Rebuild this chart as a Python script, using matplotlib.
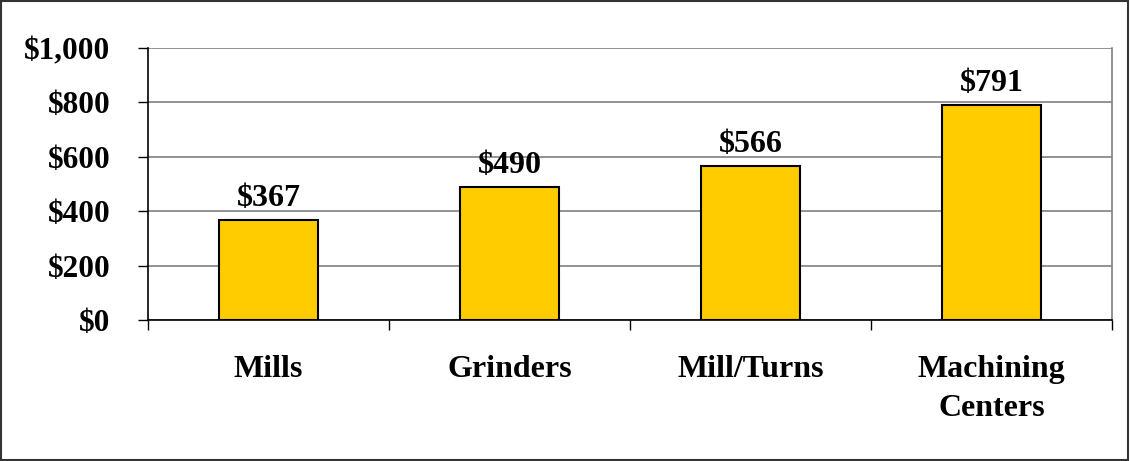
import matplotlib.pyplot as plt
from matplotlib.patches import Rectangle
from matplotlib.ticker import FuncFormatter, FixedLocator

# Dados
categories = ["Mills", "Grinders", "Mill/Turns", "Machining\nCenters"]
values = [367, 490, 566, 791]
y_ticks = [0, 200, 400, 600, 800, 1000]

plt.rcParams['font.family'] = ['Liberation Serif', 'DejaVu Serif']
plt.rcParams['font.weight'] = 'bold'

fig = plt.figure(figsize=(11.3, 4.61), dpi=100)
ax = fig.add_axes([148 / 1130, 1 - 320 / 461, (1112 - 148) / 1130, (320 - 48) / 461])

x = range(len(categories))
bars = ax.bar(x, values, width=0.41, color='#FFCC00', edgecolor='black', linewidth=1.5, zorder=3)

for xi, v in zip(x, values):
    ax.annotate(f'${v}', (xi, v), xytext=(0, 10), textcoords='offset points',
                ha='center', va='baseline', fontsize=23, fontweight='bold')

ax.set_xlim(-0.5, len(categories) - 0.5)
ax.set_ylim(0, 1000)
ax.set_yticks(y_ticks)
ax.yaxis.set_major_formatter(FuncFormatter(lambda v, p: f'${int(v):,}'))
ax.grid(axis='y', color='#808080', linewidth=1.2, zorder=0)

ax.set_xticks(list(x))
ax.set_xticklabels(categories, fontsize=23, fontweight='bold', linespacing=1.45)
ax.xaxis.set_minor_locator(FixedLocator([i - 0.5 for i in range(len(categories) + 1)]))
ax.tick_params(axis='x', which='major', length=0, pad=25)
ax.tick_params(axis='x', which='minor', length=7, width=1, direction='out')
ax.tick_params(axis='y', length=7, width=1, direction='out', pad=20, labelsize=22.5)

ax.spines['top'].set_visible(False)
ax.spines['right'].set_color('#808080')
ax.spines['right'].set_linewidth(1.2)
ax.spines['left'].set_linewidth(1.2)
ax.spines['bottom'].set_linewidth(1.2)

# Borda da figura
fig.patches.append(Rectangle((0.001, 0.002), 0.997, 0.995, transform=fig.transFigure,
                             fill=False, edgecolor='#333333', linewidth=1.5))

fig.savefig('out.png', dpi=100)
